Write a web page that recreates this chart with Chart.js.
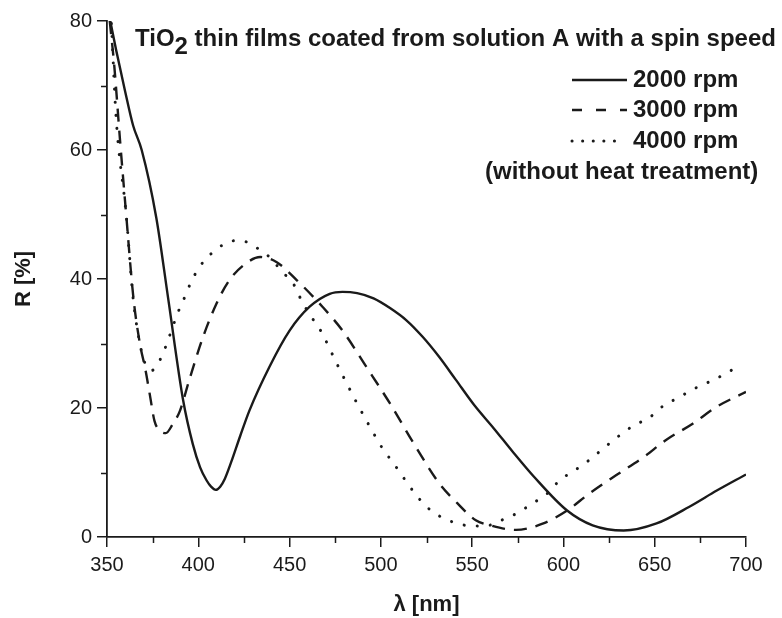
<!DOCTYPE html>
<html>
<head>
<meta charset="utf-8">
<script src="https://cdn.jsdelivr.net/npm/chart.js@4.4.1/dist/chart.umd.min.js"></script>
<style>
  html, body { margin: 0; padding: 0; background: #fff; }
  #wrap { width: 782px; height: 618px; }
</style>
</head>
<body>
<div id="wrap"><canvas id="refl"></canvas></div>
<script>
// wavelength (nm) and reflectance R (%)
const nm2000 = [351.8, 355, 360, 364.3, 369, 377, 383.4, 391.7, 397, 401, 404.5, 407, 409.6, 412, 414.5, 418, 423, 428, 439, 450, 461, 472, 479, 487, 496, 505, 514, 523, 532, 541, 551, 562, 572, 584, 602, 616, 633, 651, 669, 684, 700]
const r2000  = [80, 75.5, 69, 63.8, 60, 49.5, 37.2, 21.2, 14.4, 10.8, 8.8, 7.8, 7.3, 7.8, 9, 11.6, 15.7, 19.6, 26.4, 32, 35.7, 37.7, 38, 37.8, 37, 35.5, 33.6, 31, 27.9, 24.4, 20.5, 16.8, 13.3, 9.3, 4.1, 1.8, 1.0, 2.1, 4.7, 7.2, 9.7]

const nm3000 = [351.5, 354, 357, 360.5, 364.5, 368, 371, 373.5, 376, 379, 382.2, 386, 390, 395, 402.6, 410, 417, 426, 434, 443, 454, 468, 479, 492, 505, 518, 532, 542, 552, 560, 574, 589, 602, 614, 629, 644, 656, 671, 684, 700]
const r3000  = [80, 73, 62, 50, 37, 30, 26, 22, 18, 16.5, 16.1, 17.5, 19.6, 24.3, 31, 36.2, 39.8, 42.4, 43.4, 42.6, 39.8, 35.7, 32, 26.4, 20.7, 14.5, 8.3, 5.2, 2.6, 1.8, 1.1, 2.1, 4.1, 6.7, 9.6, 12.4, 15, 17.6, 20.2, 22.5]

const nm4000 = [352.4, 355, 360.5, 364.3, 368, 371, 374.3, 380, 383.4, 389, 392.6, 396, 401, 407, 415.5, 423, 431, 439, 446, 452, 457, 462, 467, 475, 479, 487, 492, 501, 507, 518, 525, 533, 542, 550, 559, 566, 574, 583, 591, 598, 606, 614.5, 623, 631, 638, 647.5, 655, 663, 671, 679.5, 688, 697]
const r4000  = [79.6, 65, 50, 37, 30, 26.8, 25.8, 28, 30.5, 34.9, 37.2, 39.5, 42, 43.9, 45.6, 46, 45, 43.4, 41.1, 39.3, 36.4, 34.1, 32, 27.4, 25.1, 20.7, 18.1, 13.7, 11.4, 7, 4.7, 3.1, 2.1, 1.7, 1.8, 2.6, 3.6, 5.2, 6.7, 8.8, 10.3, 12, 14, 15.8, 17.2, 18.6, 20.4, 21.6, 22.9, 24, 25.2, 26.7]

const seriesNames = ["2000 rpm", "3000 rpm", "4000 rpm"]
const titleParts = ["TiO", "2", " thin films coated from solution A with a spin speed"]
const legendNote = "(without heat treatment)"

const xMin = 350, xMax = 700, xStep = 50
const yMin = 0, yMax = 80, yStep = 20

const INK = "#1a1a1a"
const SANS = "'Liberation Sans', Arial, sans-serif"
const BOLD = "bold 24px " + SANS

function pts(xs, ys){
    return xs.map((x, i) => ({x: x, y: ys[i]}))
}

// short ticks halfway between the labelled ones
const minorTicks = {
    id: "minorTicks",
    afterDraw(chart){
        const c = chart.ctx, xs = chart.scales.x, ys = chart.scales.y
        c.save()
        c.strokeStyle = INK
        c.lineWidth = 1.5
        c.beginPath()
        for (let v = xMin + xStep/2; v < xMax; v += xStep){
            const px = Math.round(xs.getPixelForValue(v)) + 0.5
            c.moveTo(px, ys.bottom); c.lineTo(px, ys.bottom + 6)
        }
        for (let v = yMin + yStep/2; v < yMax; v += yStep){
            const py = Math.round(ys.getPixelForValue(v)) + 0.5
            c.moveTo(xs.left, py); c.lineTo(xs.left - 6, py)
        }
        c.stroke()
        c.restore()
    }
}

// heading and the hand-made legend in the upper right
const notes = {
    id: "notes",
    afterDraw(chart){
        const c = chart.ctx
        c.save()
        c.fillStyle = INK
        c.font = BOLD
        c.textBaseline = "middle"
        let x = 135
        c.fillText(titleParts[0], x, 39)
        x += c.measureText(titleParts[0]).width
        c.fillText(titleParts[1], x, 47)
        x += c.measureText(titleParts[1]).width
        c.fillText(titleParts[2], x, 39)

        const rows = [80, 110, 141]
        const dashes = [[], [10, 14], [0.1, 10.5]]
        seriesNames.forEach((name, i) => {
            c.fillText(name, 633, rows[i])
            c.beginPath()
            c.strokeStyle = INK
            c.lineWidth = i == 2 ? 3 : 2.4
            c.lineCap = i == 2 ? "round" : "butt"
            c.setLineDash(dashes[i])
            c.moveTo(572, rows[i]); c.lineTo(i == 2 ? 620 : 627, rows[i])
            c.stroke()
        })
        c.setLineDash([])
        c.fillText(legendNote, 485, 172)
        c.restore()
    }
}

const ctx = document.getElementById("refl")
new Chart(ctx, {
    type: "scatter",
    data: {
        datasets: [
            { label: seriesNames[0], data: pts(nm2000, r2000), showLine: true, borderColor: INK, borderWidth: 2.4, pointRadius: 0, cubicInterpolationMode: "monotone" },
            { label: seriesNames[1], data: pts(nm3000, r3000), showLine: true, borderColor: INK, borderWidth: 2.4, pointRadius: 0, cubicInterpolationMode: "monotone", borderDash: [13, 9] },
            { label: seriesNames[2], data: pts(nm4000, r4000), showLine: true, borderColor: INK, borderWidth: 3, pointRadius: 0, cubicInterpolationMode: "monotone", borderDash: [0.1, 13], borderCapStyle: "round" }
        ]
    },
    options: {
        responsive: true,
        maintainAspectRatio: false,
        animation: false,
        layout: { padding: { left: 0, right: 36, top: 21, bottom: 0 } },
        plugins: { legend: { display: false }, tooltip: { enabled: false } },
        scales: {
            x: {
                type: "linear", min: xMin, max: xMax,
                afterFit: (s) => { s.height = 81 },
                border: { display: true, color: INK, width: 1.8 },
                grid: { display: true, drawOnChartArea: false, drawTicks: true, tickLength: 10, color: INK, lineWidth: 1.5 },
                ticks: { stepSize: xStep, color: INK, padding: 6, font: { family: SANS, size: 20 } },
                title: { display: true, text: "λ [nm]", color: INK, padding: { top: 0, bottom: 0 }, font: { family: SANS, size: 22, weight: "bold" } }
            },
            y: {
                type: "linear", min: yMin, max: yMax,
                afterFit: (s) => { s.width = 107 },
                border: { display: true, color: INK, width: 1.8 },
                grid: { display: true, drawOnChartArea: false, drawTicks: true, tickLength: 10, color: INK, lineWidth: 1.5 },
                ticks: { stepSize: yStep, color: INK, padding: 5, font: { family: SANS, size: 20 } },
                title: { display: true, text: "R [%]", color: INK, padding: { top: 11, bottom: 0 }, font: { family: SANS, size: 22, weight: "bold" } }
            }
        }
    },
    plugins: [minorTicks, notes]
})
</script>
</body>
</html>
